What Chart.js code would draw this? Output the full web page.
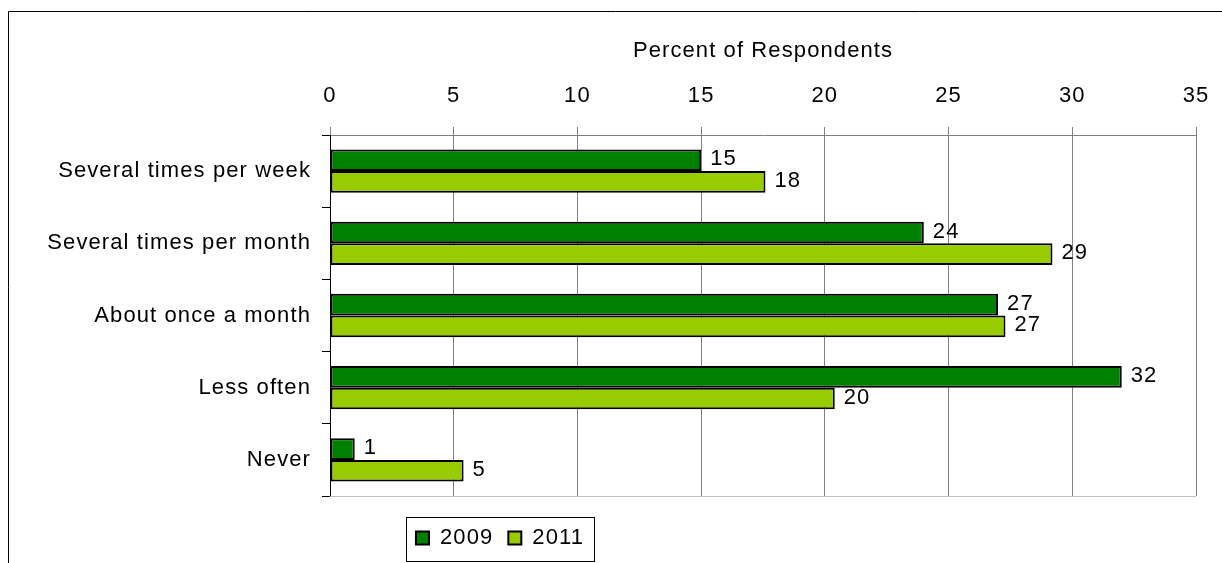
<!DOCTYPE html>
<html>
<head>
<meta charset="utf-8">
<title>Percent of Respondents</title>
<script src="https://cdn.jsdelivr.net/npm/chart.js@4/dist/chart.umd.min.js"></script>
<style>
  body { margin: 0; background: #fff; }
  canvas { display: block; }
</style>
</head>
<body>
<canvas id="freqChart" width="1222" height="563"></canvas>
<script>
  // Survey answers, percent of respondents per year
  const categories = [
    "Several times per week",
    "Several times per month",
    "About once a month",
    "Less often",
    "Never",
  ];
  const years = ["2009", "2011"];
  const values2009 = [15.0, 24.0, 27.0, 32.0, 1.0];
  const values2011 = [17.6, 29.2, 27.3, 20.4, 5.4];
  const xTicks = [0, 5, 10, 15, 20, 25, 30, 35];

  const FONT = "'Liberation Sans', Arial, sans-serif";
  const FONT_SIZE = 22;
  const SPACING = "1.1px";

  // Slightly wide letter spacing for every text drawn on the canvas
  const spacingPlugin = {
    id: "spacing",
    beforeUpdate(chart) { chart.ctx.letterSpacing = SPACING; },
    beforeLayout(chart) { chart.ctx.letterSpacing = SPACING; },
    beforeDraw(chart) { chart.ctx.letterSpacing = SPACING; },
  };

  // Outer frame and the light line closing the plot at the bottom
  const framePlugin = {
    id: "frame",
    beforeDraw(chart) {
      const ctx = chart.ctx;
      ctx.save();
      ctx.fillStyle = "#fff";
      ctx.fillRect(0, 0, chart.width, chart.height);
      ctx.strokeStyle = "#000";
      ctx.lineWidth = 1;
      ctx.beginPath();
      ctx.moveTo(8.5, chart.height);
      ctx.lineTo(8.5, 11.5);
      ctx.lineTo(chart.width, 11.5);
      ctx.stroke();
      ctx.restore();
    },
    beforeDatasetsDraw(chart) {
      const { ctx, chartArea } = chart;
      ctx.save();
      ctx.strokeStyle = "#c0c0c0";
      ctx.lineWidth = 1;
      ctx.beginPath();
      ctx.moveTo(chartArea.left, chartArea.bottom + 0.5);
      ctx.lineTo(chartArea.right, chartArea.bottom + 0.5);
      ctx.stroke();
      ctx.restore();
    },
  };

  // Legend sits under the left half of the plot, inside a thin box
  const legendBoxPlugin = {
    id: "legendBox",
    afterLayout(chart) {
      const lg = chart.legend;
      const h = lg.bottom - lg.top;
      lg.left = 380;
      lg.right = 620;
      lg.top = 512;
      lg.bottom = 512 + h;
    },
    afterDraw(chart) {
      const ctx = chart.ctx;
      ctx.save();
      ctx.strokeStyle = "#000";
      ctx.lineWidth = 1;
      ctx.strokeRect(406.5, 517.5, 188, 44);
      ctx.restore();
    },
  };

  // Rounded value printed at the end of each bar
  const valueLabels = {
    id: "valueLabels",
    afterDatasetsDraw(chart) {
      const ctx = chart.ctx;
      ctx.save();
      ctx.font = FONT_SIZE + "px " + FONT;
      ctx.fillStyle = "#000";
      ctx.textAlign = "left";
      ctx.textBaseline = "middle";
      chart.data.datasets.forEach((ds, i) => {
        chart.getDatasetMeta(i).data.forEach((bar, j) => {
          ctx.fillText(String(Math.round(ds.data[j])), bar.x + 9, bar.y - 1);
        });
      });
      ctx.restore();
    },
  };

  Chart.defaults.font.family = FONT;
  Chart.defaults.font.size = FONT_SIZE;
  Chart.defaults.color = "#000";

  const ctx = document.getElementById("freqChart").getContext("2d");
  const freqChart = new Chart(ctx, {
    type: "bar",
    data: {
      labels: categories,
      datasets: [
        {
          label: years[0],
          data: values2009,
          backgroundColor: "#008000",
          borderColor: "#000",
          borderWidth: 2,
          borderSkipped: false,
        },
        {
          label: years[1],
          data: values2011,
          backgroundColor: "#99cc00",
          borderColor: "#000",
          borderWidth: 2,
          borderSkipped: false,
        },
      ],
    },
    options: {
      indexAxis: "y",
      responsive: false,
      animation: false,
      devicePixelRatio: 1,
      categoryPercentage: 0.6,
      barPercentage: 1.0,
      layout: {
        padding: { top: 11, left: 8, right: 26, bottom: 20 },
      },
      scales: {
        x: {
          position: "top",
          min: 0,
          max: 35,
          afterBuildTicks: (scale) => {
            scale.ticks = xTicks.map((v) => ({ value: v }));
          },
          afterFit: (scale) => {
            scale.height = 124;
            scale.paddingLeft = 0;
            scale.paddingRight = 0;
          },
          ticks: { padding: 18, color: "#000" },
          grid: { color: "#808080", lineWidth: 1, tickLength: 8 },
          border: { color: "#808080", width: 1 },
          title: {
            display: true,
            text: "Percent of Respondents",
            color: "#000",
            font: { size: FONT_SIZE },
            padding: { top: 27, bottom: 0 },
          },
        },
        y: {
          afterFit: (scale) => {
            scale.width = 322;
          },
          ticks: { padding: 11, color: "#000" },
          grid: {
            offset: true,
            drawOnChartArea: false,
            color: "#000",
            tickLength: 8,
          },
          border: { color: "#000", width: 1 },
        },
      },
      plugins: {
        legend: {
          position: "bottom",
          labels: {
            boxWidth: 13,
            boxHeight: 13,
            padding: 15,
            color: "#000",
            font: { size: FONT_SIZE },
          },
        },
        tooltip: { enabled: false },
      },
    },
    plugins: [spacingPlugin, framePlugin, legendBoxPlugin, valueLabels],
  });
</script>
</body>
</html>
